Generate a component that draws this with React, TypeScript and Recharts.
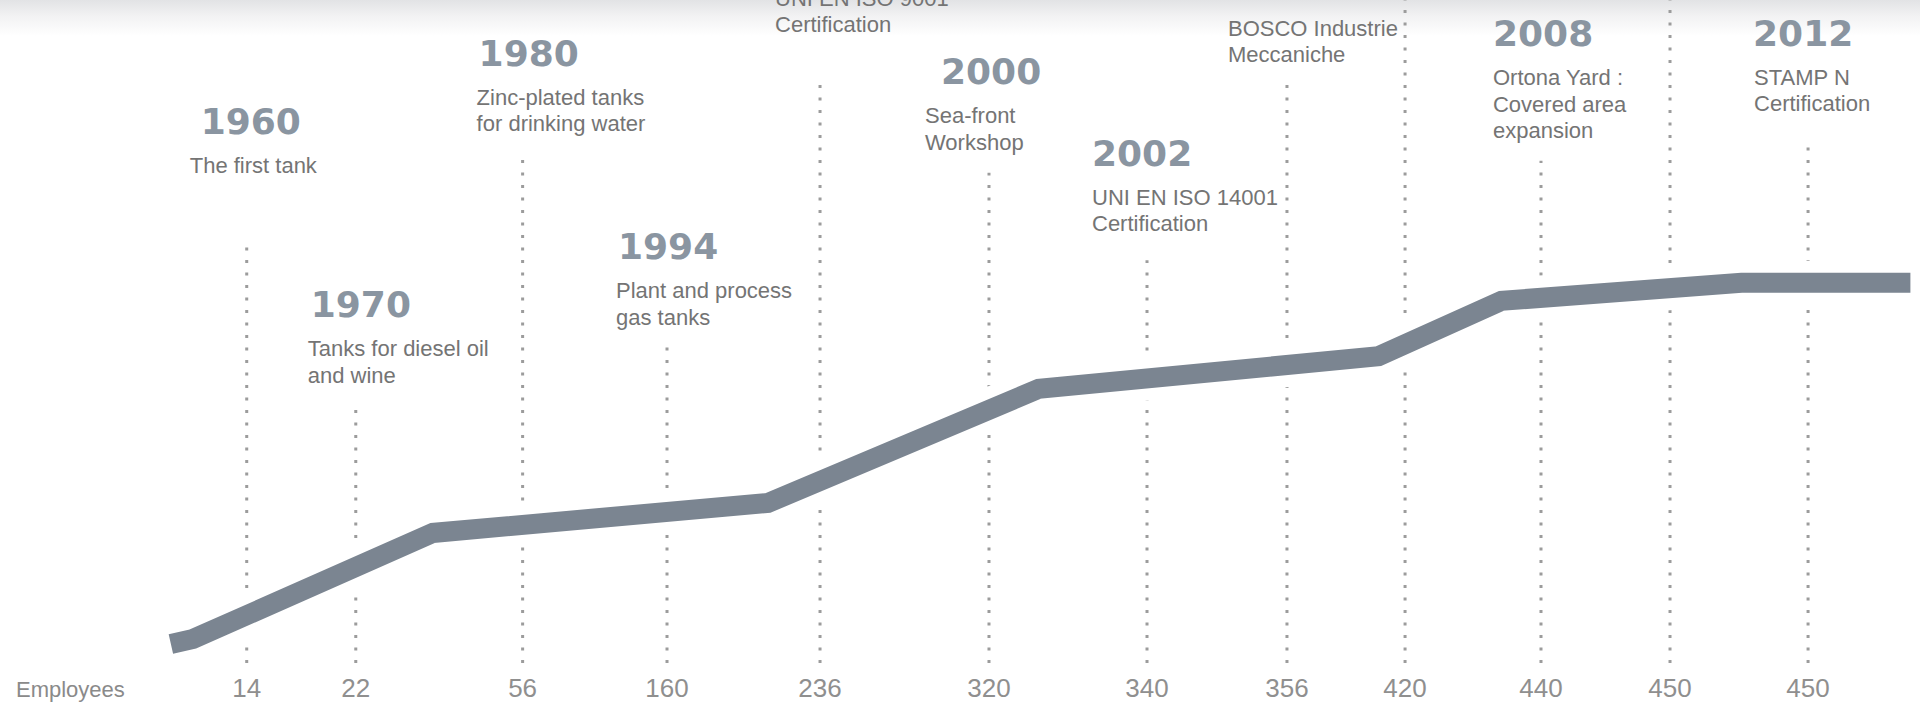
import { LineChart, Line, XAxis, YAxis, ReferenceLine, ReferenceDot } from "recharts";

// milestones along the timeline (position on a 0-100 track)
const trackPos = [12.85, 18.53, 27.22, 34.74, 42.71, 51.51, 59.74, 67.03, 73.18, 80.26, 86.98, 94.17];
const employees = [14, 22, 56, 160, 236, 320, 340, 356, 420, 440, 450, 450];
const years = ["1960", "1970", "1980", "1994", "", "2000", "2002", "", "", "2008", "", "2012"];
const events = [
  ["The first tank"],
  ["Tanks for diesel oil", "and wine"],
  ["Zinc-plated tanks", "for drinking water"],
  ["Plant and process", "gas tanks"],
  ["UNI EN ISO 9001", "Certification"],
  ["Sea-front", "Workshop"],
  ["UNI EN ISO 14001", "Certification"],
  ["BOSCO Industrie", "Meccaniche"],
  [],
  ["Ortona Yard :", "Covered area", "expansion"],
  [],
  ["STAMP N", "Certification"],
];

// stylised growth band
const bandPos = [8.9, 10.05, 22.55, 40.0, 54.1, 71.8, 78.2, 90.7, 99.5];
const bandLevel = [3.45, 4.2, 20.1, 24.6, 41.7, 46.6, 54.9, 57.6, 57.6];

const bandData = bandPos.map((pos, i) => ({ pos, level: bandLevel[i] }));

// where each label and its dotted guide sit (level = year centre, lineTop = top of guide)
const layout = [
  { level: 81.8, lineTop: 64.0, yearDx: -46, textDx: -57 },
  { level: 54.4, lineTop: 39.4, yearDx: -45, textDx: -48 },
  { level: 92.1, lineTop: 76.9, yearDx: -44, textDx: -46 },
  { level: 63.1, lineTop: 49.3, yearDx: -49, textDx: -51 },
  { level: 106.9, lineTop: 88.0, yearDx: -45, textDx: -45 },
  { level: 89.3, lineTop: 74.1, yearDx: -48, textDx: -64 },
  { level: 77.1, lineTop: 61.0, yearDx: -55, textDx: -55 },
  { level: 102.4, lineTop: 88.0, yearDx: -59, textDx: -59 },
  { level: 100, lineTop: 100, yearDx: 0, textDx: 0 },
  { level: 95.0, lineTop: 75.9, yearDx: -48, textDx: -48 },
  { level: 100, lineTop: 100, yearDx: 0, textDx: 0 },
  { level: 95.1, lineTop: 78.3, yearDx: -55, textDx: -54 },
];

const SANS = "'Liberation Sans', Arial, sans-serif";
const BAND = "#7b8591";

function MilestoneLabel({ cx, cy, idx }: { cx: number; cy: number; idx: number }) {
  const l = layout[idx];
  return (
    <g>
      {years[idx] && (
        <text x={cx + l.yearDx} y={cy + 13} fontFamily="'DejaVu Sans', sans-serif" fontWeight="bold" fontSize={36} fill="#8a95a1">
          {years[idx]}
        </text>
      )}
      {events[idx].map((t, i) => (
        <text key={i} x={cx + l.textDx} y={cy + 52 + i * 26.5} fontFamily={SANS} fontSize={22} fill="#747474">
          {t}
        </text>
      ))}
    </g>
  );
}

export default function App() {
  return (
    <div
      style={{
        position: "absolute",
        left: 0,
        top: 0,
        width: 1920,
        height: 706,
        background: "linear-gradient(to bottom, #e2e3e5 0px, #f2f2f3 16px, #ffffff 36px)",
      }}
    >
      <LineChart width={1920} height={706} data={bandData} margin={{ top: 0, right: 0, bottom: 0, left: 0 }}>
        <XAxis
          type="number"
          dataKey="pos"
          domain={[0, 100]}
          ticks={trackPos}
          interval={0}
          allowDataOverflow
          tickFormatter={(_v, i) => String(employees[i])}
          axisLine={false}
          tickLine={false}
          tickMargin={6}
          height={39}
          tick={{ fill: "#8f8f8f", fontSize: 26, fontFamily: SANS }}
          label={(props: any) => (
            <text x={props.viewBox.x + 16} y={props.viewBox.y + 30} fontFamily={SANS} fontSize={22} fill="#8a8a8a">
              Employees
            </text>
          )}
        />
        <YAxis type="number" domain={[0, 100]} allowDataOverflow hide />
        {trackPos.map((p, i) => (
          <ReferenceLine
            key={"g" + i}
            segment={[
              { x: p, y: 0.6 },
              { x: p, y: layout[i].lineTop },
            ]}
            stroke="#9c9c9c"
            strokeWidth={3}
            strokeDasharray="3 9.5"
            ifOverflow="visible"
          />
        ))}
        <Line dataKey="level" stroke="#ffffff" strokeWidth={44} dot={false} activeDot={false} isAnimationActive={false} />
        <Line dataKey="level" stroke={BAND} strokeWidth={20} dot={false} activeDot={false} isAnimationActive={false} />
        {trackPos.map((p, i) => (
          <ReferenceDot
            key={"l" + i}
            x={p}
            y={layout[i].level}
            r={0}
            ifOverflow="visible"
            shape={(s: any) => <MilestoneLabel cx={s.cx} cy={s.cy} idx={i} />}
          />
        ))}
      </LineChart>
    </div>
  );
}
